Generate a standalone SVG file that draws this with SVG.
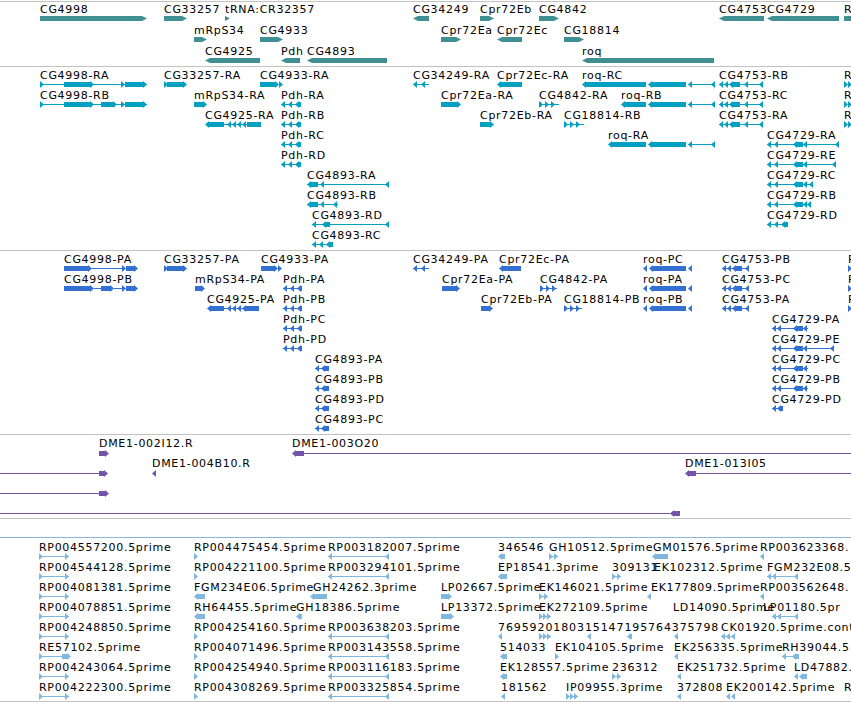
<svg xmlns="http://www.w3.org/2000/svg" width="851" height="702" viewBox="0 0 851 702">
<style>
text{font-family:"DejaVu Sans","Liberation Sans",sans-serif;font-size:11px;letter-spacing:0.7px;fill:#000}
.sep{fill:#c2c2c2}
.g{fill:#3f8f93}
.t{fill:#03a0c2}
.p{fill:#3470d2}
.c{fill:#7454aa}
.e{fill:#80b7df}
</style>
<defs>
<path id="ar" d="M0,-3L4,0.5L0,4Z"/>
<path id="al" d="M4,-3L0,0.5L4,4Z"/>
</defs>
<rect width="851" height="702" fill="#fff"/>
<g id="separators">
<rect class="sep" x="0" y="1" width="851" height="1"/>
<rect class="sep" x="0" y="66" width="851" height="1"/>
<rect class="sep" x="0" y="250" width="851" height="1"/>
<rect class="sep" x="0" y="434" width="851" height="1"/>
<rect class="sep" x="0" y="518" width="851" height="1"/>
<rect x="0" y="537" width="851" height="1" fill="#8cb6d9"/>
<rect class="sep" x="0" y="701" width="851" height="1"/>
</g>

<g id="genes">
<g id="g-CG4998" class="g"><text x="40" y="13">CG4998</text><path d="M40,16H142L147,18.5L142,21H40Z"/></g>
<g id="g-CG33257" class="g"><text x="164" y="13">CG33257</text><path d="M164,16H182L187,18.5L182,21H164Z"/></g>
<g id="g-tRNA" class="g"><text x="225" y="13">tRNA:CR32357</text><path d="M225,16L230,18.5L225,21Z"/></g>
<g id="g-CG34249" class="g"><text x="413" y="13">CG34249</text><path d="M429,16H418L413,18.5L418,21H429Z"/></g>
<g id="g-Cpr72Eb" class="g"><text x="480" y="13">Cpr72Eb</text><path d="M480,16H489L494,18.5L489,21H480Z"/></g>
<g id="g-CG4842" class="g"><text x="539" y="13">CG4842</text><path d="M539,16H554L559,18.5L554,21H539Z"/></g>
<g id="g-CG4753" class="g"><text x="719" y="13">CG4753</text><path d="M764,16H724L719,18.5L724,21H764Z"/></g>
<g id="g-CG4729" class="g"><text x="767" y="13">CG4729</text><path d="M839,16H772L767,18.5L772,21H839Z"/></g>
<g id="g-R" class="g"><text x="844" y="13">R</text><path d="M844,16H851V21H844Z"/></g>
<g id="g-mRpS34" class="g"><text x="194" y="34">mRpS34</text><path d="M194,37H202L207,39.5L202,42H194Z"/></g>
<g id="g-CG4933" class="g"><text x="260" y="34">CG4933</text><path d="M260,37H278L283,39.5L278,42H260Z"/></g>
<g id="g-Cpr72Ea" class="g"><text x="441" y="34">Cpr72Ea</text><path d="M441,37H456L461,39.5L456,42H441Z"/></g>
<g id="g-Cpr72Ec" class="g"><text x="497" y="34">Cpr72Ec</text><path d="M522,37H502L497,39.5L502,42H522Z"/></g>
<g id="g-CG18814" class="g"><text x="564" y="34">CG18814</text><path d="M564,37H579L584,39.5L579,42H564Z"/></g>
<g id="g-CG4925" class="g"><text x="205" y="55">CG4925</text><path d="M260,58H210L205,60.5L210,63H260Z"/></g>
<g id="g-Pdh" class="g"><text x="281" y="55">Pdh</text><path d="M300,58H286L281,60.5L286,63H300Z"/></g>
<g id="g-CG4893" class="g"><text x="307" y="55">CG4893</text><path d="M387,58H312L307,60.5L312,63H387Z"/></g>
<g id="g-roq" class="g"><text x="582" y="55">roq</text><path d="M714,58H587L582,60.5L587,63H714Z"/></g>
</g>

<g id="transcripts">
<g id="t-CG4998-RA" class="t"><text x="40" y="79">CG4998-RA</text><rect x="40" y="84" width="107" height="1"/><use href="#ar" x="40" y="84"/><rect x="64" y="82" width="26" height="5"/><use href="#ar" x="90" y="84"/><use href="#ar" x="121" y="84"/><rect x="125" y="82" width="18" height="5"/><use href="#ar" x="143" y="84"/></g>
<g id="t-CG33257-RA" class="t"><text x="164" y="79">CG33257-RA</text><use href="#ar" x="164" y="84"/><rect x="167" y="82" width="16" height="5"/><use href="#ar" x="183" y="84"/></g>
<g id="t-CG4933-RA" class="t"><text x="260" y="79">CG4933-RA</text><rect x="260" y="82" width="15" height="5"/><use href="#ar" x="275" y="84"/><use href="#ar" x="279" y="84"/></g>
<g id="t-CG34249-RA" class="t"><text x="413" y="79">CG34249-RA</text><rect x="413" y="84" width="16" height="1"/><use href="#al" x="413" y="84"/><use href="#al" x="421" y="84"/></g>
<g id="t-Cpr72Ec-RA" class="t"><text x="497" y="79">Cpr72Ec-RA</text><use href="#al" x="497" y="84"/><rect x="501" y="82" width="21" height="5"/></g>
<g id="t-roq-RC" class="t"><text x="582" y="79">roq-RC</text><use href="#al" x="582" y="84"/><rect x="586" y="82" width="60" height="5"/><use href="#al" x="648" y="84"/><rect x="652" y="82" width="34" height="5"/><use href="#al" x="688" y="84"/><rect x="688" y="84" width="27" height="1"/><use href="#al" x="711" y="84"/></g>
<g id="t-CG4753-RB" class="t"><text x="719" y="79">CG4753-RB</text><rect x="719" y="84" width="44" height="1"/><use href="#al" x="719" y="84"/><use href="#al" x="724" y="84"/><use href="#al" x="729" y="84"/><rect x="733" y="82" width="7" height="5"/><use href="#al" x="744" y="84"/><use href="#al" x="759" y="84"/></g>
<g id="t-R1" class="t"><text x="844" y="79">R</text><use href="#ar" x="844" y="84"/><use href="#ar" x="848" y="84"/></g>

<g id="t-CG4998-RB" class="t"><text x="40" y="99">CG4998-RB</text><rect x="40" y="104" width="107" height="1"/><use href="#ar" x="40" y="104"/><rect x="64" y="102" width="26" height="5"/><use href="#ar" x="90" y="104"/><rect x="101" y="102" width="12" height="5"/><use href="#ar" x="113" y="104"/><use href="#ar" x="121" y="104"/><rect x="125" y="102" width="18" height="5"/><use href="#ar" x="143" y="104"/></g>
<g id="t-mRpS34-RA" class="t"><text x="194" y="99">mRpS34-RA</text><rect x="194" y="102" width="9" height="5"/><use href="#ar" x="203" y="104"/></g>
<g id="t-Pdh-RA" class="t"><text x="281" y="99">Pdh-RA</text><rect x="281" y="104" width="20" height="1"/><use href="#al" x="281" y="104"/><use href="#al" x="288" y="104"/><use href="#al" x="295" y="104"/><rect x="298" y="102" width="3" height="5"/></g>
<g id="t-Cpr72Ea-RA" class="t"><text x="441" y="99">Cpr72Ea-RA</text><rect x="441" y="102" width="16" height="5"/><use href="#ar" x="457" y="104"/></g>
<g id="t-CG4842-RA" class="t"><text x="539" y="99">CG4842-RA</text><rect x="539" y="104" width="20" height="1"/><use href="#ar" x="539" y="104"/><use href="#ar" x="545" y="104"/><use href="#ar" x="551" y="104"/><rect x="539" y="102" width="2" height="5"/></g>
<g id="t-roq-RB" class="t"><text x="621" y="99">roq-RB</text><use href="#al" x="621" y="104"/><rect x="625" y="102" width="21" height="5"/><use href="#al" x="648" y="104"/><rect x="652" y="102" width="34" height="5"/><use href="#al" x="688" y="104"/><rect x="688" y="104" width="27" height="1"/><use href="#al" x="711" y="104"/></g>
<g id="t-CG4753-RC" class="t"><text x="719" y="99">CG4753-RC</text><rect x="719" y="104" width="44" height="1"/><use href="#al" x="719" y="104"/><use href="#al" x="724" y="104"/><use href="#al" x="729" y="104"/><rect x="733" y="102" width="7" height="5"/><use href="#al" x="744" y="104"/><use href="#al" x="759" y="104"/></g>
<g id="t-R2" class="t"><text x="844" y="99">R</text><use href="#ar" x="844" y="104"/><use href="#ar" x="848" y="104"/></g>

<g id="t-CG4925-RA" class="t"><text x="205" y="119">CG4925-RA</text><use href="#al" x="205" y="124"/><rect x="209" y="122" width="15" height="5"/><rect x="224" y="124" width="23" height="1"/><use href="#al" x="227" y="124"/><use href="#al" x="232" y="124"/><use href="#al" x="237" y="124"/><use href="#al" x="242" y="124"/><rect x="247" y="122" width="14" height="5"/></g>
<g id="t-Pdh-RB" class="t"><text x="281" y="119">Pdh-RB</text><rect x="281" y="124" width="20" height="1"/><use href="#al" x="281" y="124"/><use href="#al" x="288" y="124"/><use href="#al" x="295" y="124"/><rect x="298" y="122" width="3" height="5"/></g>
<g id="t-Cpr72Eb-RA" class="t"><text x="480" y="119">Cpr72Eb-RA</text><rect x="480" y="122" width="10" height="5"/><use href="#ar" x="490" y="124"/></g>
<g id="t-CG18814-RB" class="t"><text x="564" y="119">CG18814-RB</text><rect x="564" y="124" width="20" height="1"/><use href="#ar" x="564" y="124"/><use href="#ar" x="570" y="124"/><use href="#ar" x="576" y="124"/><rect x="564" y="122" width="2" height="5"/></g>
<g id="t-CG4753-RA" class="t"><text x="719" y="119">CG4753-RA</text><rect x="719" y="124" width="44" height="1"/><use href="#al" x="719" y="124"/><use href="#al" x="724" y="124"/><use href="#al" x="729" y="124"/><rect x="733" y="122" width="7" height="5"/><use href="#al" x="744" y="124"/><use href="#al" x="759" y="124"/></g>
<g id="t-R3" class="t"><text x="844" y="119">R</text><use href="#ar" x="844" y="124"/><use href="#ar" x="848" y="124"/></g>

<g id="t-Pdh-RC" class="t"><text x="281" y="139">Pdh-RC</text><rect x="281" y="144" width="20" height="1"/><use href="#al" x="281" y="144"/><use href="#al" x="288" y="144"/><use href="#al" x="295" y="144"/><rect x="298" y="142" width="3" height="5"/></g>
<g id="t-roq-RA" class="t"><text x="608" y="139">roq-RA</text><use href="#al" x="608" y="144"/><rect x="612" y="142" width="34" height="5"/><use href="#al" x="648" y="144"/><rect x="652" y="142" width="34" height="5"/><use href="#al" x="688" y="144"/><rect x="688" y="144" width="27" height="1"/><use href="#al" x="711" y="144"/></g>
<g id="t-CG4729-RA" class="t"><text x="767" y="139">CG4729-RA</text><rect x="767" y="144" width="72" height="1"/><use href="#al" x="767" y="144"/><use href="#al" x="774" y="144"/><use href="#al" x="793" y="144"/><rect x="797" y="142" width="6" height="5"/><use href="#al" x="803" y="144"/><use href="#al" x="835" y="144"/></g>

<g id="t-Pdh-RD" class="t"><text x="281" y="159">Pdh-RD</text><rect x="281" y="164" width="20" height="1"/><use href="#al" x="281" y="164"/><use href="#al" x="288" y="164"/><use href="#al" x="295" y="164"/><rect x="298" y="162" width="3" height="5"/></g>
<g id="t-CG4729-RE" class="t"><text x="767" y="159">CG4729-RE</text><rect x="767" y="164" width="69" height="1"/><use href="#al" x="767" y="164"/><use href="#al" x="774" y="164"/><use href="#al" x="793" y="164"/><rect x="797" y="162" width="6" height="5"/><use href="#al" x="803" y="164"/><use href="#al" x="832" y="164"/></g>

<g id="t-CG4893-RA" class="t"><text x="307" y="179">CG4893-RA</text><rect x="307" y="184" width="82" height="1"/><use href="#al" x="307" y="184"/><rect x="311" y="182" width="7" height="5"/><use href="#al" x="320" y="184"/><use href="#al" x="385" y="184"/></g>
<g id="t-CG4729-RC" class="t"><text x="767" y="179">CG4729-RC</text><rect x="767" y="184" width="46" height="1"/><use href="#al" x="767" y="184"/><use href="#al" x="774" y="184"/><use href="#al" x="793" y="184"/><rect x="797" y="182" width="6" height="5"/><use href="#al" x="803" y="184"/><use href="#al" x="809" y="184"/></g>

<g id="t-CG4893-RB" class="t"><text x="307" y="199">CG4893-RB</text><rect x="307" y="204" width="31" height="1"/><use href="#al" x="307" y="204"/><rect x="311" y="202" width="7" height="5"/><use href="#al" x="320" y="204"/><use href="#al" x="333" y="204"/></g>
<g id="t-CG4729-RB" class="t"><text x="767" y="199">CG4729-RB</text><rect x="767" y="204" width="44" height="1"/><use href="#al" x="767" y="204"/><use href="#al" x="774" y="204"/><use href="#al" x="793" y="204"/><rect x="797" y="202" width="6" height="5"/><use href="#al" x="803" y="204"/><use href="#al" x="807" y="204"/></g>

<g id="t-CG4893-RD" class="t"><text x="312" y="219">CG4893-RD</text><rect x="312" y="224" width="77" height="1"/><use href="#al" x="312" y="224"/><use href="#al" x="322" y="224"/><rect x="326" y="222" width="4" height="5"/><use href="#al" x="385" y="224"/></g>
<g id="t-CG4729-RD" class="t"><text x="767" y="219">CG4729-RD</text><rect x="767" y="224" width="21" height="1"/><use href="#al" x="767" y="224"/><use href="#al" x="774" y="224"/><use href="#al" x="781" y="224"/><rect x="784" y="222" width="4" height="5"/></g>

<g id="t-CG4893-RC" class="t"><text x="312" y="239">CG4893-RC</text><rect x="312" y="244" width="21" height="1"/><use href="#al" x="312" y="244"/><use href="#al" x="319" y="244"/><use href="#al" x="326" y="244"/><rect x="329" y="242" width="4" height="5"/></g>
</g>

<g id="proteins">
<g id="p-CG4998-PA" class="p"><text x="64" y="263">CG4998-PA</text><rect x="64" y="266" width="24" height="5"/><use href="#ar" x="88" y="268"/><rect x="92" y="268" width="30" height="1"/><use href="#ar" x="122" y="268"/><rect x="126" y="266" width="8" height="5"/><use href="#ar" x="134" y="268"/></g>
<g id="p-CG33257-PA" class="p"><text x="164" y="263">CG33257-PA</text><use href="#ar" x="164" y="268"/><rect x="167" y="266" width="16" height="5"/><use href="#ar" x="183" y="268"/></g>
<g id="p-CG4933-PA" class="p"><text x="261" y="263">CG4933-PA</text><rect x="261" y="266" width="13" height="5"/><use href="#ar" x="274" y="268"/><use href="#ar" x="278" y="268"/></g>
<g id="p-CG34249-PA" class="p"><text x="413" y="263">CG34249-PA</text><rect x="413" y="268" width="16" height="1"/><use href="#al" x="413" y="268"/><use href="#al" x="421" y="268"/></g>
<g id="p-Cpr72Ec-PA" class="p"><text x="499" y="263">Cpr72Ec-PA</text><use href="#al" x="499" y="268"/><rect x="503" y="266" width="18" height="5"/></g>
<g id="p-roq-PC" class="p"><text x="643" y="263">roq-PC</text><use href="#al" x="643" y="268"/><use href="#al" x="649" y="268"/><rect x="653" y="266" width="33" height="5"/><use href="#al" x="688" y="268"/></g>
<g id="p-CG4753-PB" class="p"><text x="722" y="263">CG4753-PB</text><rect x="722" y="268" width="27" height="1"/><use href="#al" x="722" y="268"/><use href="#al" x="727" y="268"/><use href="#al" x="732" y="268"/><rect x="736" y="266" width="6" height="5"/><use href="#al" x="745" y="268"/></g>
<g id="p-R1" class="p"><text x="848" y="263">R</text><use href="#ar" x="848" y="268"/></g>

<g id="p-CG4998-PB" class="p"><text x="64" y="283">CG4998-PB</text><rect x="64" y="286" width="26" height="5"/><use href="#ar" x="90" y="288"/><rect x="94" y="288" width="7" height="1"/><rect x="101" y="286" width="9" height="5"/><use href="#ar" x="110" y="288"/><rect x="114" y="288" width="8" height="1"/><use href="#ar" x="122" y="288"/><rect x="126" y="286" width="8" height="5"/><use href="#ar" x="134" y="288"/></g>
<g id="p-mRpS34-PA" class="p"><text x="195" y="283">mRpS34-PA</text><rect x="195" y="286" width="6" height="5"/><use href="#ar" x="201" y="288"/></g>
<g id="p-Pdh-PA" class="p"><text x="283" y="283">Pdh-PA</text><rect x="283" y="288" width="19" height="1"/><use href="#al" x="283" y="288"/><use href="#al" x="290" y="288"/><use href="#al" x="297" y="288"/><rect x="300" y="286" width="2" height="5"/></g>
<g id="p-Cpr72Ea-PA" class="p"><text x="442" y="283">Cpr72Ea-PA</text><rect x="442" y="286" width="14" height="5"/><use href="#ar" x="456" y="288"/></g>
<g id="p-CG4842-PA" class="p"><text x="540" y="283">CG4842-PA</text><rect x="540" y="288" width="17" height="1"/><use href="#ar" x="540" y="288"/><use href="#ar" x="546" y="288"/><use href="#ar" x="552" y="288"/><rect x="540" y="286" width="2" height="5"/></g>
<g id="p-roq-PA" class="p"><text x="643" y="283">roq-PA</text><use href="#al" x="643" y="288"/><use href="#al" x="649" y="288"/><rect x="653" y="286" width="33" height="5"/><use href="#al" x="688" y="288"/></g>
<g id="p-CG4753-PC" class="p"><text x="722" y="283">CG4753-PC</text><rect x="722" y="288" width="27" height="1"/><use href="#al" x="722" y="288"/><use href="#al" x="727" y="288"/><use href="#al" x="732" y="288"/><rect x="736" y="286" width="6" height="5"/><use href="#al" x="745" y="288"/></g>
<g id="p-R2" class="p"><text x="848" y="283">R</text><use href="#ar" x="848" y="288"/></g>

<g id="p-CG4925-PA" class="p"><text x="207" y="303">CG4925-PA</text><use href="#al" x="207" y="308"/><rect x="211" y="306" width="13" height="5"/><rect x="224" y="308" width="22" height="1"/><use href="#al" x="227" y="308"/><use href="#al" x="232" y="308"/><use href="#al" x="237" y="308"/><use href="#al" x="242" y="308"/><rect x="246" y="306" width="13" height="5"/></g>
<g id="p-Pdh-PB" class="p"><text x="283" y="303">Pdh-PB</text><rect x="283" y="308" width="19" height="1"/><use href="#al" x="283" y="308"/><use href="#al" x="290" y="308"/><use href="#al" x="297" y="308"/><rect x="300" y="306" width="2" height="5"/></g>
<g id="p-Cpr72Eb-PA" class="p"><text x="481" y="303">Cpr72Eb-PA</text><rect x="481" y="306" width="8" height="5"/><use href="#ar" x="489" y="308"/></g>
<g id="p-CG18814-PB" class="p"><text x="564" y="303">CG18814-PB</text><rect x="564" y="308" width="18" height="1"/><use href="#ar" x="564" y="308"/><use href="#ar" x="570" y="308"/><use href="#ar" x="576" y="308"/><rect x="564" y="306" width="2" height="5"/></g>
<g id="p-roq-PB" class="p"><text x="643" y="303">roq-PB</text><use href="#al" x="643" y="308"/><use href="#al" x="649" y="308"/><rect x="653" y="306" width="33" height="5"/><use href="#al" x="688" y="308"/></g>
<g id="p-CG4753-PA" class="p"><text x="722" y="303">CG4753-PA</text><rect x="722" y="308" width="27" height="1"/><use href="#al" x="722" y="308"/><use href="#al" x="727" y="308"/><use href="#al" x="732" y="308"/><rect x="736" y="306" width="6" height="5"/><use href="#al" x="745" y="308"/></g>
<g id="p-R3" class="p"><text x="848" y="303">R</text><use href="#ar" x="848" y="308"/></g>

<g id="p-Pdh-PC" class="p"><text x="283" y="323">Pdh-PC</text><rect x="283" y="328" width="19" height="1"/><use href="#al" x="283" y="328"/><use href="#al" x="290" y="328"/><use href="#al" x="297" y="328"/><rect x="300" y="326" width="2" height="5"/></g>
<g id="p-CG4729-PA" class="p"><text x="772" y="323">CG4729-PA</text><rect x="772" y="328" width="36" height="1"/><use href="#al" x="772" y="328"/><use href="#al" x="777" y="328"/><use href="#al" x="793" y="328"/><rect x="797" y="326" width="6" height="5"/><use href="#al" x="803" y="328"/></g>
<g id="p-Pdh-PD" class="p"><text x="283" y="343">Pdh-PD</text><rect x="283" y="348" width="19" height="1"/><use href="#al" x="283" y="348"/><use href="#al" x="290" y="348"/><use href="#al" x="297" y="348"/><rect x="300" y="346" width="2" height="5"/></g>
<g id="p-CG4729-PE" class="p"><text x="772" y="343">CG4729-PE</text><rect x="772" y="348" width="62" height="1"/><use href="#al" x="772" y="348"/><use href="#al" x="777" y="348"/><use href="#al" x="793" y="348"/><rect x="797" y="346" width="6" height="5"/><use href="#al" x="803" y="348"/><use href="#al" x="830" y="348"/></g>
<g id="p-CG4893-PA" class="p"><text x="315" y="363">CG4893-PA</text><rect x="315" y="368" width="14" height="1"/><use href="#al" x="315" y="368"/><use href="#al" x="321" y="368"/><rect x="325" y="366" width="4" height="5"/></g>
<g id="p-CG4729-PC" class="p"><text x="772" y="363">CG4729-PC</text><rect x="772" y="368" width="36" height="1"/><use href="#al" x="772" y="368"/><use href="#al" x="777" y="368"/><use href="#al" x="793" y="368"/><rect x="797" y="366" width="6" height="5"/><use href="#al" x="803" y="368"/></g>
<g id="p-CG4893-PB" class="p"><text x="315" y="383">CG4893-PB</text><rect x="315" y="388" width="14" height="1"/><use href="#al" x="315" y="388"/><use href="#al" x="321" y="388"/><rect x="325" y="386" width="4" height="5"/></g>
<g id="p-CG4729-PB" class="p"><text x="772" y="383">CG4729-PB</text><rect x="772" y="388" width="36" height="1"/><use href="#al" x="772" y="388"/><use href="#al" x="777" y="388"/><use href="#al" x="793" y="388"/><rect x="797" y="386" width="6" height="5"/><use href="#al" x="803" y="388"/></g>
<g id="p-CG4893-PD" class="p"><text x="315" y="403">CG4893-PD</text><rect x="315" y="408" width="14" height="1"/><use href="#al" x="315" y="408"/><use href="#al" x="321" y="408"/><rect x="325" y="406" width="4" height="5"/></g>
<g id="p-CG4729-PD" class="p"><text x="772" y="403">CG4729-PD</text><rect x="772" y="408" width="11" height="1"/><use href="#al" x="772" y="408"/><use href="#al" x="777" y="408"/><rect x="780" y="406" width="3" height="5"/></g>
<g id="p-CG4893-PC" class="p"><text x="315" y="423">CG4893-PC</text><rect x="315" y="428" width="14" height="1"/><use href="#al" x="315" y="428"/><use href="#al" x="321" y="428"/><rect x="325" y="426" width="4" height="5"/></g>
</g>

<g id="clones">
<g id="c-DME1-002I12" class="c"><text x="99" y="447">DME1-002I12.R</text><rect x="99" y="451" width="6" height="5"/><use href="#ar" x="105" y="453"/></g>
<g id="c-DME1-003O20" class="c"><text x="292" y="447">DME1-003O20</text><use href="#al" x="292" y="453"/><rect x="296" y="451" width="8" height="5"/><rect x="304" y="453" width="547" height="1"/></g>
<g id="c-left1" class="c"><rect x="0" y="473" width="99" height="1"/><rect x="99" y="471" width="5" height="5"/><use href="#ar" x="104" y="473"/></g>
<g id="c-DME1-004B10" class="c"><text x="152" y="467">DME1-004B10.R</text><use href="#al" x="152" y="473"/></g>
<g id="c-DME1-013I05" class="c"><text x="685" y="467">DME1-013I05</text><use href="#al" x="685" y="473"/><rect x="689" y="471" width="7" height="5"/><rect x="696" y="473" width="155" height="1"/></g>
<g id="c-left2" class="c"><rect x="0" y="493" width="99" height="1"/><rect x="99" y="491" width="6" height="5"/><use href="#ar" x="105" y="493"/></g>
<g id="c-left3" class="c"><rect x="0" y="513" width="670" height="1"/><use href="#al" x="670" y="513"/><rect x="674" y="511" width="6" height="5"/></g>
</g>

<g id="ests">
<g id="e-RP004557200" class="e"><text x="39" y="551">RP004557200.5prime</text><rect x="39" y="556" width="30" height="1"/><use href="#ar" x="39" y="556"/><use href="#ar" x="65" y="556"/></g>
<g id="e-RP004544128" class="e"><text x="39" y="571">RP004544128.5prime</text><rect x="39" y="576" width="30" height="1"/><use href="#ar" x="39" y="576"/><use href="#ar" x="65" y="576"/></g>
<g id="e-RP004081381" class="e"><text x="39" y="591">RP004081381.5prime</text><rect x="39" y="596" width="30" height="1"/><use href="#ar" x="39" y="596"/><use href="#ar" x="65" y="596"/></g>
<g id="e-RP004078851" class="e"><text x="39" y="611">RP004078851.5prime</text><rect x="39" y="616" width="30" height="1"/><use href="#ar" x="39" y="616"/><use href="#ar" x="65" y="616"/></g>
<g id="e-RP004248850" class="e"><text x="39" y="631">RP004248850.5prime</text><rect x="39" y="636" width="30" height="1"/><use href="#ar" x="39" y="636"/><use href="#ar" x="65" y="636"/></g>
<g id="e-RE57102" class="e"><text x="39" y="651">RE57102.5prime</text><rect x="39" y="656" width="26" height="1"/><use href="#ar" x="39" y="656"/><rect x="62" y="654" width="5" height="5"/><use href="#ar" x="67" y="656"/></g>
<g id="e-RP004243064" class="e"><text x="39" y="671">RP004243064.5prime</text><rect x="39" y="676" width="30" height="1"/><use href="#ar" x="39" y="676"/><use href="#ar" x="65" y="676"/></g>
<g id="e-RP004222300" class="e"><text x="39" y="691">RP004222300.5prime</text><rect x="39" y="696" width="30" height="1"/><use href="#ar" x="39" y="696"/><use href="#ar" x="65" y="696"/></g>

<g id="e-RP004475454" class="e"><text x="194" y="551">RP004475454.5prime</text><use href="#ar" x="194" y="556"/></g>
<g id="e-RP004221100" class="e"><text x="194" y="571">RP004221100.5prime</text><use href="#ar" x="194" y="576"/></g>
<g id="e-FGM234E06" class="e"><text x="194" y="591">FGM234E06.5prime</text><use href="#al" x="194" y="596"/><rect x="198" y="594" width="7" height="5"/></g>
<g id="e-RH64455" class="e"><text x="194" y="611">RH64455.5prime</text><use href="#al" x="194" y="616"/><rect x="198" y="614" width="7" height="5"/></g>
<g id="e-RP004254160" class="e"><text x="194" y="631">RP004254160.5prime</text><use href="#ar" x="194" y="636"/></g>
<g id="e-RP004071496" class="e"><text x="194" y="651">RP004071496.5prime</text><use href="#ar" x="194" y="656"/></g>
<g id="e-RP004254940" class="e"><text x="194" y="671">RP004254940.5prime</text><use href="#ar" x="194" y="676"/></g>
<g id="e-RP004308269" class="e"><text x="194" y="691">RP004308269.5prime</text><use href="#ar" x="194" y="696"/></g>

<g id="e-RP003182007" class="e"><text x="328" y="551">RP003182007.5prime</text><rect x="328" y="556" width="61" height="1"/><use href="#al" x="328" y="556"/><use href="#al" x="385" y="556"/></g>
<g id="e-RP003294101" class="e"><text x="328" y="571">RP003294101.5prime</text><rect x="328" y="576" width="61" height="1"/><use href="#al" x="328" y="576"/><use href="#al" x="385" y="576"/></g>
<g id="e-GH24262" class="e"><text x="313" y="591">GH24262.3prime</text><use href="#al" x="310" y="596"/><rect x="314" y="594" width="13" height="5"/></g>
<g id="e-GH18386" class="e"><text x="296" y="611">GH18386.5prime</text><use href="#al" x="296" y="616"/><rect x="299" y="614" width="3" height="5"/></g>
<g id="e-RP003638203" class="e"><text x="328" y="631">RP003638203.5prime</text><rect x="328" y="636" width="61" height="1"/><use href="#al" x="328" y="636"/><use href="#al" x="385" y="636"/></g>
<g id="e-RP003143558" class="e"><text x="328" y="651">RP003143558.5prime</text><rect x="328" y="656" width="61" height="1"/><use href="#al" x="328" y="656"/><use href="#al" x="385" y="656"/></g>
<g id="e-RP003116183" class="e"><text x="328" y="671">RP003116183.5prime</text><rect x="328" y="676" width="61" height="1"/><use href="#al" x="328" y="676"/><use href="#al" x="385" y="676"/></g>
<g id="e-RP003325854" class="e"><text x="328" y="691">RP003325854.5prime</text><rect x="328" y="696" width="61" height="1"/><use href="#al" x="328" y="696"/><use href="#al" x="385" y="696"/></g>

<g id="e-346546" class="e"><text x="498" y="551">346546</text><use href="#al" x="498" y="556"/><rect x="501" y="554" width="4" height="5"/></g>
<g id="e-GH10512" class="e"><text x="549" y="551">GH10512.5prime</text><rect x="549" y="556" width="9" height="1"/><use href="#ar" x="549" y="556"/><use href="#ar" x="554" y="556"/></g>
<g id="e-GM01576" class="e"><text x="653" y="551">GM01576.5prime</text><use href="#al" x="652" y="556"/><rect x="656" y="554" width="12" height="5"/></g>
<g id="e-RP003623368" class="e"><text x="760" y="551">RP003623368.</text><use href="#al" x="760" y="556"/></g>

<g id="e-EP18541" class="e"><text x="498" y="571">EP18541.3prime</text><use href="#al" x="498" y="576"/><rect x="502" y="574" width="5" height="5"/></g>
<g id="e-309131" class="e"><text x="612" y="571">309131</text><rect x="612" y="576" width="9" height="1"/><use href="#ar" x="612" y="576"/><use href="#ar" x="617" y="576"/></g>
<g id="e-EK102312" class="e"><text x="654" y="571">EK102312.5prime</text></g>
<g id="e-FGM232E08" class="e"><text x="767" y="571">FGM232E08.5</text><rect x="767" y="576" width="31" height="1"/><use href="#al" x="767" y="576"/><use href="#al" x="772" y="576"/><use href="#al" x="794" y="576"/></g>

<g id="e-LP02667" class="e"><text x="441" y="591">LP02667.5prime</text><rect x="441" y="594" width="7" height="5"/><use href="#ar" x="448" y="596"/></g>
<g id="e-EK146021" class="e"><text x="539" y="591">EK146021.5prime</text><rect x="539" y="596" width="9" height="1"/><use href="#ar" x="539" y="596"/><use href="#ar" x="544" y="596"/></g>
<g id="e-EK177809" class="e"><text x="651" y="591">EK177809.5prime</text><use href="#al" x="647" y="596"/></g>
<g id="e-RP003562648" class="e"><text x="760" y="591">RP003562648.</text><use href="#al" x="760" y="596"/></g>

<g id="e-LP13372" class="e"><text x="441" y="611">LP13372.5prime</text><rect x="441" y="614" width="9" height="5"/><use href="#ar" x="450" y="616"/></g>
<g id="e-EK272109" class="e"><text x="539" y="611">EK272109.5prime</text><rect x="539" y="616" width="12" height="1"/><use href="#ar" x="539" y="616"/><use href="#ar" x="543" y="616"/><use href="#ar" x="547" y="616"/></g>
<g id="e-LD14090" class="e"><text x="673" y="611">LD14090.5prime</text></g>
<g id="e-LP01180" class="e"><text x="763" y="611">LP01180.5pr</text><rect x="772" y="616" width="26" height="1"/><use href="#al" x="772" y="616"/><use href="#al" x="777" y="616"/><use href="#al" x="794" y="616"/></g>

<g id="e-row5-digits" class="e"><text x="498" y="631" textLength="221" lengthAdjust="spacing">7695920180315147195764375798</text><use href="#al" x="498" y="636"/><rect x="539" y="636" width="12" height="1"/><use href="#ar" x="539" y="636"/><use href="#ar" x="543" y="636"/><use href="#ar" x="547" y="636"/><use href="#al" x="587" y="636"/><use href="#al" x="627" y="636"/><rect x="630" y="634" width="2" height="5"/><use href="#al" x="674" y="636"/></g>
<g id="e-CK01920" class="e"><text x="721" y="631">CK01920.5prime.cont</text><rect x="721" y="636" width="14" height="1"/><use href="#al" x="721" y="636"/><use href="#al" x="726" y="636"/><use href="#al" x="731" y="636"/></g>

<g id="e-514033" class="e"><text x="500" y="651">514033</text><use href="#al" x="500" y="656"/><rect x="504" y="654" width="3" height="5"/></g>
<g id="e-EK104105" class="e"><text x="555" y="651">EK104105.5prime</text><use href="#ar" x="555" y="656"/></g>
<g id="e-EK256335" class="e"><text x="674" y="651">EK256335.5prime</text><use href="#al" x="674" y="656"/></g>
<g id="e-RH39044" class="e"><text x="782" y="651">RH39044.5</text><rect x="782" y="656" width="17" height="1"/><use href="#al" x="782" y="656"/><use href="#al" x="792" y="656"/><rect x="795" y="654" width="4" height="5"/></g>

<g id="e-EK128557" class="e"><text x="500" y="671">EK128557.5prime</text><use href="#al" x="500" y="676"/><rect x="504" y="674" width="3" height="5"/></g>
<g id="e-236312" class="e"><text x="612" y="671">236312</text><rect x="612" y="676" width="9" height="1"/><use href="#ar" x="612" y="676"/><use href="#ar" x="617" y="676"/></g>
<g id="e-EK251732" class="e"><text x="677" y="671">EK251732.5prime</text><use href="#al" x="677" y="676"/></g>
<g id="e-LD47882" class="e"><text x="794" y="671">LD47882.</text><use href="#al" x="794" y="676"/><use href="#al" x="799" y="676"/><rect x="803" y="674" width="4" height="5"/></g>

<g id="e-181562" class="e"><text x="501" y="691">181562</text><use href="#al" x="501" y="696"/></g>
<g id="e-IP09955" class="e"><text x="566" y="691">IP09955.3prime</text><rect x="566" y="696" width="12" height="1"/><use href="#ar" x="566" y="696"/><use href="#ar" x="570" y="696"/><use href="#ar" x="574" y="696"/></g>
<g id="e-372808" class="e"><text x="677" y="691">372808</text><use href="#al" x="677" y="696"/></g>
<g id="e-EK200142" class="e"><text x="726" y="691">EK200142.5prime</text><use href="#al" x="726" y="696"/><use href="#al" x="731" y="696"/></g>
<g id="e-R" class="e"><text x="844" y="691">R</text></g>
</g>
</svg>
